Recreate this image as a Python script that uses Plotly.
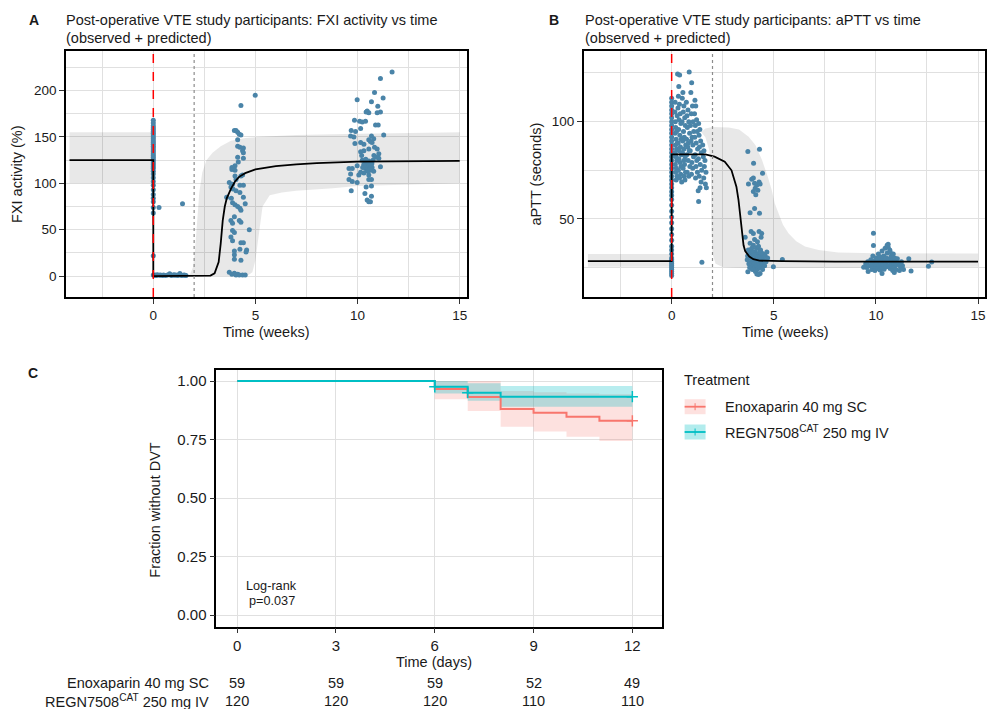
import plotly.graph_objects as go

W, H = 987, 709
FONT = "Liberation Sans, Arial, sans-serif"
PT_COL = "#4a84a8"
BAND = "rgba(0,0,0,0.09)"
GRID = "#e0e0e0"
RED = "#F8766D"
TEAL = "#00BFC4"


def px(x):
    return x / W


def py(y):
    return 1 - y / H


# ---------------- panel A: FXI activity (%) ----------------
fxi_day0 = [168, 165, 162, 160, 158, 156, 154, 152, 150, 148, 146, 144, 142, 140, 138,
            136, 134, 132, 130, 128, 126, 124, 122, 120, 118, 116, 113, 110, 106, 102,
            98, 93, 88, 84, 80, 74, 68, 22, 1]
fxi_early = [(0.05, 0.5), (0.1, 1), (0.15, 0.5), (0.2, 1.5), (0.3, 0.8), (0.35, 1), (0.45, 0.5),
             (0.5, 1.2), (0.6, 0.7), (0.7, 1), (0.8, 2.5), (0.85, 1), (0.9, 0.6), (1.0, 1.3),
             (1.05, 0.8), (1.1, 1), (1.2, 0.7), (1.25, 1.5), (1.3, 2.8), (1.35, 1), (1.4, 0.5),
             (1.5, 1.2), (1.55, 0.8), (1.6, 0.6), (0.28, 74), (1.43, 78)]
fxi_wk4 = [(4.99, 195), (4.29, 184), (4.05, 157), (4.13, 155), (4.21, 153), (4.29, 152), (3.97, 157),
           (4.13, 147), (4.13, 140), (4.24, 139), (4.41, 138), (4.37, 135), (4.41, 133), (4.13, 128),
           (4.41, 127), (4.16, 123), (4.0, 119), (3.85, 117), (3.85, 115), (4.0, 114), (4.37, 109),
           (4.29, 108), (4.0, 108), (4.05, 104), (3.72, 101), (3.88, 99), (3.8, 96), (4.24, 98),
           (4.41, 98), (3.9, 94), (4.05, 92), (4.24, 90), (3.59, 85), (3.82, 84), (4.41, 85),
           (4.5, 78), (3.88, 79), (4.0, 77), (4.13, 75), (4.24, 73), (4.29, 71), (3.97, 64),
           (4.21, 60), (3.8, 60), (3.88, 57), (4.29, 58), (4.7, 50), (3.88, 49), (3.97, 47),
           (3.8, 42), (3.88, 38), (4.29, 36), (4.41, 36), (3.97, 27), (4.57, 28), (4.24, 29),
           (3.97, 23), (4.29, 17), (3.97, 18), (4.54, 26), (3.72, 4), (3.85, 2), (3.97, 3),
           (4.05, 1), (4.13, 2), (4.21, 1), (4.37, 1), (4.5, 1)]
fxi_wk10 = [(11.69, 220), (11.12, 213), (10.83, 198), (11.25, 192), (9.98, 190), (10.68, 188),
            (10.99, 183), (11.12, 177), (10.96, 176), (10.47, 178), (10.55, 176), (10.42, 177),
            (9.85, 168), (10.1, 167), (10.23, 166), (10.39, 167), (10.88, 163), (11.01, 163),
            (10.15, 159), (9.69, 157), (9.9, 156), (9.66, 151), (9.82, 150), (10.68, 151),
            (10.79, 148), (10.55, 147), (10.63, 145), (10.71, 144), (11.28, 152), (9.87, 143),
            (10.15, 144), (10.31, 142), (10.83, 139), (10.96, 137), (11.04, 132), (11.04, 127),
            (10.31, 135), (10.55, 137), (10.15, 134), (9.58, 116), (9.74, 116), (9.98, 119),
            (10.23, 125), (10.36, 124), (10.42, 122), (10.55, 120), (10.63, 118), (10.71, 117),
            (10.39, 116), (10.47, 114), (10.63, 114), (10.79, 113), (10.31, 111), (10.55, 109),
            (11.12, 118), (9.66, 110), (10.06, 109), (10.15, 112), (9.58, 104), (10.55, 104),
            (10.68, 104), (9.74, 102), (9.98, 101), (10.42, 96), (10.68, 97), (9.69, 92),
            (10.36, 89), (10.68, 86), (10.47, 82), (10.63, 80), (10.55, 80), (10.4, 120),
            (10.45, 118), (10.5, 121), (10.5, 116), (10.6, 122), (10.35, 118), (10.55, 124),
            (10.45, 124), (10.6, 115), (10.65, 120), (10.3, 120), (10.5, 113), (10.7, 121),
            (10.25, 117), (10.4, 126), (10.75, 125), (10.8, 130), (10.9, 128), (10.2, 130)]
fxi_model_wk = [-4.1, 0, 0, 1.0, 2.0, 2.8, 3.0, 3.1, 3.2, 3.3, 3.4, 3.5, 3.6, 3.8, 4.0,
                4.2, 4.5, 5.0, 6.0, 7.0, 8.0, 10.0, 12.0, 15.0]
fxi_model = [125, 125, 0, 0, 0, 0.5, 3, 8, 15, 35, 60, 75, 84, 94, 102,
             107, 111, 115, 118.5, 120.5, 121.8, 123.3, 123.9, 124.2]
fxi_band_pre_wk = [-4.1, 0]
fxi_band_pre = [100, 155]
fxi_hi_wk = [0, 1.5, 1.8, 1.95, 2.05, 2.15, 2.25, 2.4, 2.6, 2.9, 3.3, 3.8, 4.5, 5.5, 7, 10, 15]
fxi_hi = [0, 0, 2, 10, 30, 60, 90, 112, 125, 133, 140, 146, 149, 150.5, 152, 153.5, 155]
fxi_lo_wk = [15, 10, 8.8, 7, 6.3, 5.7, 5.35, 5.18, 5.0, 4.85, 4.6, 0]
fxi_lo = [100, 97, 94.6, 92, 90, 87, 75, 46, 17, 4, 0, 0]

# ---------------- panel B: aPTT (seconds) ----------------
aptt_day0 = [112, 110, 108, 106, 104, 102, 100, 98, 96, 94, 92, 90, 88, 86, 84, 82, 80, 78,
             76, 74, 72, 70, 68, 66, 64, 62, 60, 57, 54, 51, 48, 45, 42, 39, 36, 34, 32, 30,
             29, 28, 27, 26, 25, 24, 23, 22, 21]
aptt_wk1 = [(0.16, 105), (0.18, 100), (0.2, 97), (0.17, 94), (0.22, 91), (0.19, 88), (0.24, 86),
            (0.16, 84), (0.21, 82), (0.25, 80), (0.18, 78), (0.23, 76), (0.2, 74), (0.26, 72),
            (0.22, 70), (0.17, 110), (0.27, 103), (0.24, 95), (0.28, 89), (0.19, 83),
            (0.29, 124.5), (0.35, 118), (0.33, 113), (0.38, 109), (0.31, 107), (0.42, 104),
            (0.36, 101), (0.45, 99), (0.34, 96), (0.4, 93), (0.47, 91), (0.32, 89), (0.43, 87),
            (0.37, 85), (0.48, 83), (0.35, 81), (0.41, 79), (0.46, 77), (0.33, 75), (0.44, 73),
            (0.39, 71), (0.49, 69), (0.39, 124), (0.55, 115), (0.52, 112), (0.6, 108),
            (0.57, 105), (0.64, 102), (0.51, 100), (0.67, 98), (0.58, 95), (0.62, 92), (0.54, 90),
            (0.69, 88), (0.6, 86), (0.53, 84), (0.66, 82), (0.59, 80), (0.63, 78), (0.56, 76),
            (0.68, 74), (0.61, 72), (0.65, 70), (0.86, 125.5), (0.72, 110), (0.8, 106),
            (0.75, 103), (0.84, 100), (0.77, 97), (0.88, 94), (0.73, 91), (0.82, 89), (0.79, 87),
            (0.86, 85), (0.74, 83), (0.81, 80), (0.89, 77), (0.76, 74), (0.84, 72), (0.98, 120),
            (0.94, 115), (1.02, 108), (0.96, 104), (1.05, 100), (0.92, 98), (1.08, 95), (1.0, 92),
            (0.95, 90), (1.04, 88), (0.91, 85), (1.07, 82), (0.99, 79), (1.03, 76), (0.97, 73),
            (1.14, 111), (1.18, 108), (1.12, 104), (1.22, 101), (1.16, 98), (1.25, 95),
            (1.13, 92), (1.2, 89), (1.27, 86), (1.15, 83), (1.23, 80), (1.19, 77), (1.26, 74),
            (1.17, 71), (1.32, 99), (1.38, 96), (1.34, 93), (1.42, 90), (1.36, 87), (1.45, 84),
            (1.31, 81), (1.4, 78), (1.47, 75), (1.35, 72), (1.44, 69), (1.39, 66), (1.3, 64.5),
            (1.32, 59), (1.52, 88), (1.58, 85), (1.55, 82), (1.63, 80), (1.6, 77), (1.68, 74),
            (1.57, 71), (1.65, 68), (1.7, 66), (1.48, 27.8)]
aptt_wk4 = [(3.73, 84.6), (4.3, 85.8), (4.01, 78.6), (4.45, 73.5), (3.92, 70.4), (4.0, 71),
            (3.76, 68), (4.06, 68.3), (4.17, 67.5), (4.28, 69), (4.33, 68), (4.09, 65.8),
            (4.0, 64.1), (4.12, 62.4), (4.22, 64.8), (4.06, 55.4), (3.84, 53.2), (4.3, 52.9),
            (3.89, 43.5), (4.0, 42.5), (4.28, 43.5), (4.41, 42.5), (4.38, 40.6), (3.6, 40.6),
            (4.06, 39.5), (3.84, 37.5), (4.2, 38.3), (4.0, 36.5), (3.75, 34), (3.8, 32),
            (3.85, 30), (3.9, 28), (3.95, 26), (3.7, 29), (3.72, 31), (3.78, 27), (3.82, 25),
            (3.88, 33), (3.92, 35), (3.98, 31), (4.02, 29), (4.05, 27), (4.08, 25), (4.1, 33),
            (4.12, 30), (4.15, 28), (4.18, 26), (4.2, 24), (4.22, 32), (4.25, 29), (4.28, 27),
            (4.3, 25), (4.32, 34), (4.35, 31), (4.38, 28), (4.4, 26), (4.42, 30), (4.45, 27),
            (4.48, 32), (4.5, 29), (4.55, 26), (4.58, 31), (4.62, 28), (4.66, 33), (4.7, 30),
            (4.0, 33), (4.15, 35), (4.25, 36), (4.35, 34), (3.95, 24), (4.1, 23), (4.45, 24),
            (4.05, 31.5), (4.2, 30.5), (4.3, 29.5), (4.4, 32.5), (4.98, 25.5), (5.42, 29.2),
            (3.73, 22.9), (4.17, 21.7), (4.33, 22), (4.25, 21.5)]
aptt_wk10 = [(9.5, 27), (9.55, 25), (9.6, 28), (9.62, 23), (9.7, 26), (9.75, 29), (9.8, 24),
             (9.82, 27.5), (9.85, 31), (9.9, 25.5), (9.92, 28.5), (9.95, 23.5), (10.0, 26.5),
             (10.02, 30), (10.05, 27.8), (10.08, 24.5), (10.1, 29), (10.12, 32), (10.15, 26),
             (10.18, 28), (10.2, 23.8), (10.22, 30.5), (10.25, 27), (10.28, 25), (10.3, 33.5),
             (10.32, 29), (10.35, 26.5), (10.38, 31), (10.4, 24.2), (10.42, 28), (10.45, 35),
             (10.48, 27), (10.5, 30), (10.52, 25.5), (10.55, 32.5), (10.58, 28.5), (10.6, 37),
             (10.62, 26), (10.65, 29.5), (10.68, 34), (10.7, 24.5), (10.72, 27.5), (10.75, 31),
             (10.78, 26), (10.8, 29), (10.82, 23.5), (10.85, 32), (10.88, 27), (10.9, 25),
             (10.92, 30), (10.95, 28), (10.98, 24), (11.0, 26.5), (11.05, 29.5), (11.1, 27),
             (11.15, 23.5), (11.2, 25.5), (11.25, 28), (11.3, 26), (11.35, 24), (9.88, 42.6),
             (9.88, 36.3), (10.6, 35.5), (10.55, 36.5), (10.7, 33), (11.72, 23.3), (11.61, 29.6),
             (12.57, 25.7), (12.73, 27.9), (9.4, 25.2), (10.3, 22), (10.9, 22.5)]
aptt_model_wk = [-4.1, 0, 0, 1.65, 2.1, 2.6, 2.93, 3.17, 3.27, 3.33, 3.41, 3.52, 3.6, 3.8,
                 4.0, 4.3, 5.4, 8.0, 15.0]
aptt_model = [28.3, 28.3, 83.2, 83.2, 82, 79.4, 75, 66.6, 60, 54.6, 46, 36.5, 33.5, 30.7,
              29.3, 28.6, 28.3, 28.1, 28.1]
aptt_band_pre_wk = [-4.1, 0]
aptt_band_pre = [25.5, 32]
aptt_hi_wk = [1.45, 1.65, 2.0, 2.8, 3.3, 3.77, 4.1, 4.42, 4.7, 4.9, 5.05, 5.23, 5.45, 5.72,
              6.1, 6.53, 7.2, 8.16, 10, 15]
aptt_hi = [94.7, 96.5, 97.2, 97, 96, 92.3, 88, 80.4, 72, 64.9, 58, 52.9, 47, 42.6,
           38.5, 35.8, 34, 32.8, 32.4, 32.3]
aptt_lo_wk = [15, 10, 6, 4, 3, 2.5, 2.15, 2.0, 1.95, 1.93, 1.85, 1.65]
aptt_lo = [25.5, 25, 24.7, 24.8, 25, 25.3, 27, 32, 45, 70, 85, 92]

# ---------------- panel C: Kaplan-Meier ----------------
days = [0, 3, 6, 9, 12]
enox_t = [0, 6, 7, 8, 9, 10, 11, 12]
enox_s = [1, 0.966, 0.932, 0.881, 0.864, 0.847, 0.830, 0.830]
enox_ci_t = [6, 7, 8, 9, 10, 11, 12]
enox_lo = [0.922, 0.872, 0.805, 0.784, 0.762, 0.744, 0.744]
enox_hi = [1.0, 1.0, 0.957, 0.952, 0.947, 0.943, 0.943]
regn_t = [0, 6, 7, 8, 12]
regn_s = [1, 0.975, 0.95, 0.933, 0.933]
regn_ci_t = [6, 7, 8, 12]
regn_lo = [0.947, 0.916, 0.89, 0.89]
regn_hi = [1.0, 0.99, 0.979, 0.979]
regn_cens_t = [6, 7, 12]
regn_cens_s = [0.975, 0.95, 0.933]
enox_cens_t = [12]
enox_cens_s = [0.830]
risk_enox = [59, 59, 59, 52, 49]
risk_regn = [120, 120, 120, 110, 110]


def unzip(pairs):
    return [p[0] for p in pairs], [p[1] for p in pairs]


fig = go.Figure()


def add_panel(ax, pre_wk, pre, hi_wk, hi, lo_wk, lo, day0, clusters, model_wk, model):
    xa, ya = ("x", "y") if ax == 1 else ("x%d" % ax, "y%d" % ax)
    fig.add_trace(go.Scatter(x=[pre_wk[0], pre_wk[1], pre_wk[1], pre_wk[0]],
                             y=[pre[0], pre[0], pre[1], pre[1]], fill="toself", fillcolor=BAND,
                             mode="lines", line=dict(width=0), xaxis=xa, yaxis=ya))
    fig.add_trace(go.Scatter(x=hi_wk + lo_wk, y=hi + lo, fill="toself", fillcolor=BAND,
                             mode="lines", line=dict(width=0), xaxis=xa, yaxis=ya))
    xs = [0] * len(day0)
    ys = list(day0)
    for c in clusters:
        cx, cy = unzip(c)
        xs += cx
        ys += cy
    fig.add_trace(go.Scatter(x=xs, y=ys, mode="markers",
                             marker=dict(color=PT_COL, size=5, line=dict(width=0)),
                             xaxis=xa, yaxis=ya))
    fig.add_trace(go.Scatter(x=model_wk, y=model, mode="lines",
                             line=dict(color="black", width=1.8), xaxis=xa, yaxis=ya))
    for xv, col, dash, wd in [(0, "#ff0000", "dash", 1.5), (2, "#8c8c8c", "dot", 1.2)]:
        fig.add_shape(type="line", xref=xa, yref=ya + " domain", x0=xv, x1=xv, y0=0, y1=1,
                      line=dict(color=col, dash=dash, width=wd))


add_panel(1, fxi_band_pre_wk, fxi_band_pre, fxi_hi_wk, fxi_hi, fxi_lo_wk, fxi_lo,
          fxi_day0, [fxi_early, fxi_wk4, fxi_wk10], fxi_model_wk, fxi_model)
add_panel(2, aptt_band_pre_wk, aptt_band_pre, aptt_hi_wk, aptt_hi, aptt_lo_wk, aptt_lo,
          aptt_day0, [aptt_wk1, aptt_wk4, aptt_wk10], aptt_model_wk, aptt_model)

# KM bands and curves
for t, lo, hi, fc in [(enox_ci_t, enox_lo, enox_hi, "rgba(248,118,109,0.22)"),
                      (regn_ci_t, regn_lo, regn_hi, "rgba(0,191,196,0.28)")]:
    fig.add_trace(go.Scatter(x=t, y=lo, mode="lines", line=dict(width=0, shape="hv"),
                             xaxis="x3", yaxis="y3"))
    fig.add_trace(go.Scatter(x=t, y=hi, mode="lines", line=dict(width=0, shape="hv"),
                             fill="tonexty", fillcolor=fc, xaxis="x3", yaxis="y3"))
for t, s, col in [(enox_t, enox_s, RED), (regn_t, regn_s, TEAL)]:
    fig.add_trace(go.Scatter(x=t, y=s, mode="lines", line=dict(color=col, width=2, shape="hv"),
                             xaxis="x3", yaxis="y3"))
for t, s, col in [(enox_cens_t, enox_cens_s, RED), (regn_cens_t, regn_cens_s, TEAL)]:
    fig.add_trace(go.Scatter(x=t, y=s, mode="markers",
                             marker=dict(symbol="cross-thin", size=8, line=dict(color=col, width=1.5)),
                             xaxis="x3", yaxis="y3"))

tickfont = dict(family=FONT, size=13.5, color="#1a1a1a")


def box_axis(dom, rng, dtick, minor=None, fmt=None, tfont=tickfont, anchor=None):
    d = dict(domain=dom, range=rng, dtick=dtick, tick0=0, showgrid=True, gridcolor=GRID,
             gridwidth=1.2, zeroline=False, showline=True, linecolor="black", linewidth=1.5,
             mirror=True, ticks="outside", ticklen=5, tickwidth=1, tickcolor="#333",
             tickfont=tfont, anchor=anchor)
    if minor:
        d["minor"] = dict(dtick=minor, tick0=0, showgrid=True, gridcolor=GRID, gridwidth=1.2)
    if fmt:
        d["tickformat"] = fmt
    return d


ya_dom = [py(297), py(51)]
cfont = dict(family=FONT, size=15, color="#1a1a1a")
fig.update_layout(
    width=W, height=H, margin=dict(l=0, r=0, t=0, b=0), showlegend=False,
    plot_bgcolor="white", paper_bgcolor="white", font=dict(family=FONT, color="#1a1a1a"),
    xaxis=box_axis([px(66), px(468)], [-4.28, 15.36], 5, 2.5, anchor="y"),
    yaxis=box_axis(ya_dom, [-22.6, 242.7], 50, 25, anchor="x"),
    xaxis2=box_axis([px(585), 1.0], [-4.3, 15.34], 5, 2.5, anchor="y2"),
    yaxis2=box_axis(ya_dom, [9.9, 136.3], 50, 25, anchor="x2"),
    xaxis3=box_axis([px(216.7), px(663)], [-0.636, 12.89], 3, tfont=cfont, anchor="y3"),
    yaxis3=box_axis([py(626.7), py(370)], [-0.049, 1.047], 0.25, fmt=".2f", tfont=cfont,
                    anchor="x3"),
)

ann = []


def text(x, y, s, size=14.5, anchor="left", bold=False, angle=0, xref="paper"):
    ann.append(dict(x=x if xref != "paper" else px(x), y=py(y), xref=xref, yref="paper",
                    text="<b>%s</b>" % s if bold else s, showarrow=False, xanchor=anchor,
                    yanchor="middle", textangle=angle,
                    font=dict(family=FONT, size=size, color="#1a1a1a")))


text(33.7, 20, "A", 14, "center", True)
text(64.3, 20, "Post-operative VTE study participants: FXI activity vs time")
text(64.3, 37.7, "(observed + predicted)")
text(554.7, 20, "B", 14, "center", True)
text(584.3, 20, "Post-operative VTE study participants: aPTT vs time")
text(584.3, 37.7, "(observed + predicted)")
text(33, 373.3, "C", 14, "center", True)
text(17, 174, "FXI activity (%)", anchor="center", angle=-90)
text(267, 332, "Time (weeks)", anchor="center")
text(536.7, 174, "aPTT (seconds)", anchor="center", angle=-90)
text(786.7, 332, "Time (weeks)", anchor="center")
text(155, 510, "Fraction without DVT", anchor="center", angle=-90)
text(435, 661.7, "Time (days)", anchor="center")
text(272.3, 586, "Log-rank", 12.7, "center")
text(272.3, 600.7, "p=0.037", 12.7, "center")
text(211.7, 683.3, "Enoxaparin 40 mg SC", anchor="right")
text(211.7, 700.7, "REGN7508<sup>CAT</sup> 250 mg IV", anchor="right")
for d, a, b in zip(days, risk_enox, risk_regn):
    text(d, 683.3, str(a), anchor="center", xref="x3")
    text(d, 700.7, str(b), anchor="center", xref="x3")

# legend
text(683, 380, "Treatment")
text(724, 407, "Enoxaparin 40 mg SC")
text(724, 432, "REGN7508<sup>CAT</sup> 250 mg IV")
shapes = []
for yc, col, fc in [(406.7, RED, "rgba(248,118,109,0.22)"), (432, TEAL, "rgba(0,191,196,0.3)")]:
    shapes.append(dict(type="rect", xref="paper", yref="paper", x0=px(686), x1=px(707),
                       y0=py(yc - 7.5), y1=py(yc + 7.5), fillcolor=fc, line=dict(width=0)))
    shapes.append(dict(type="line", xref="paper", yref="paper", x0=px(686), x1=px(707),
                       y0=py(yc), y1=py(yc), line=dict(color=col, width=1.8)))
    shapes.append(dict(type="line", xref="paper", yref="paper", x0=px(696.5), x1=px(696.5),
                       y0=py(yc - 3.5), y1=py(yc + 3.5), line=dict(color=col, width=1)))

fig.update_layout(annotations=ann)
for s in shapes:
    fig.add_shape(**s)

fig.write_html("out.html", config={"displayModeBar": False},
               post_script="document.body.style.margin='0px';document.body.style.overflow='hidden';")
